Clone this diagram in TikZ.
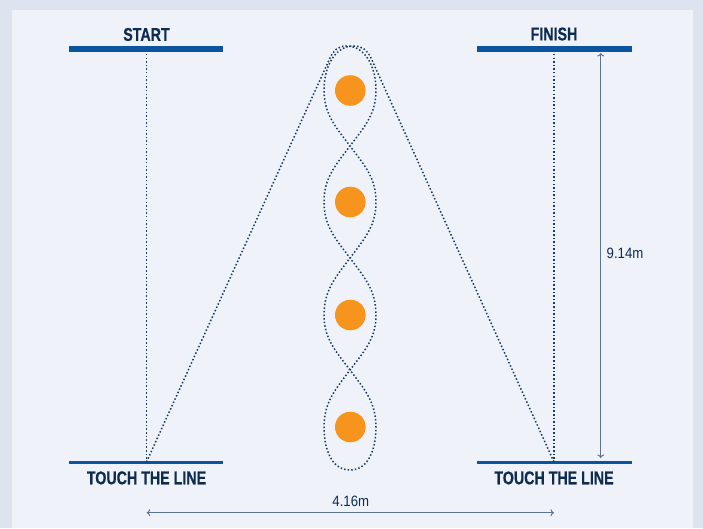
\documentclass[tikz,border=0pt]{standalone}
\usepackage{fontspec}
\setmainfont{Liberation Sans}
\newfontfamily\condb[FakeStretch=0.77,FakeBold=0.5]{Liberation Sans}
\newfontfamily\condr[FakeStretch=0.88]{Liberation Sans}
\usetikzlibrary{arrows.meta}
\definecolor{bgout}{HTML}{DDE3EF}
\definecolor{bgin}{HTML}{EFF3F9}
\definecolor{barblue}{HTML}{0B55A0}
\definecolor{navy}{HTML}{0E2C50}
\definecolor{dotc}{HTML}{1C3A60}
\definecolor{arrc}{HTML}{5C7493}
\definecolor{cone}{HTML}{F7941D}
\begin{document}
\begin{tikzpicture}[x=1pt,y=1pt,
  barline/.style={draw=barblue,line width=#1},
  lbl/.style={font=\condb\bfseries\fontsize{18.5}{20}\selectfont, text=navy, inner sep=0},
  num/.style={font=\condr\fontsize{15}{17}\selectfont, text=navy, inner sep=0},
  dots/.style={draw=dotc, line width=1.5pt, dash pattern=on 1.5pt off 2.1pt},
  dimline/.style={draw=arrc, line width=1pt, {To[length=3.5pt,width=7pt]}-{To[length=3.5pt,width=7pt]}},
  conedot/.style={fill=cone, circle, minimum size=30.6pt, inner sep=0}]
\fill[bgout] (0,0) rectangle (703,528);
\fill[bgin] (12,0) rectangle (692.7,518);
\useasboundingbox (0,0) rectangle (703,528);

% bars
\coordinate (sbA) at (69,479);   \coordinate (sbB) at (223,479);
\coordinate (tbA) at (69,65.3);  \coordinate (tbB) at (223,65.3);
\coordinate (fbA) at (477,479);  \coordinate (fbB) at (631.7,479);
\coordinate (ubA) at (477,65.3); \coordinate (ubB) at (631.7,65.3);
\draw[barline=6pt] (sbA) -- (sbB);
\draw[barline=6pt] (fbA) -- (fbB);
\draw[barline=3.5pt] (tbA) -- (tbB);
\draw[barline=3.5pt] (ubA) -- (ubB);

% labels
\node[lbl] (start) at (146.5,493.5) {START};
\node[lbl] (finish) at (554,494) {FINISH};
\node[lbl] (touchL) at (146.5,50.1) {TOUCH THE LINE};
\node[lbl] (touchR) at (554,50.1) {TOUCH THE LINE};

% dotted verticals
\coordinate (lTop) at (146.5,474);
\coordinate (lBot) at (146.5,66);
\coordinate (rTop) at (554,474);
\coordinate (rBot) at (554,66);
\draw[dots] (lTop) -- (lBot);
\draw[dots] (rTop) -- (rBot);

% cones
\node[conedot] (c1) at (350.3,437.5) {};
\node[conedot] (c2) at (350.3,326) {};
\node[conedot] (c3) at (350.3,213) {};
\node[conedot] (c4) at (350.3,101) {};

% weave path
\draw[dots] (lBot) -- (330,470)
  to[out=65.6,in=180] (346,482)
  to[out=0,in=90] (376,438)
  to[out=-90,in=53] (350,382)
  to[out=233,in=90] (324,326)
  to[out=-90,in=127] (350,270)
  to[out=-53,in=90] (376,213)
  to[out=-90,in=53] (350,158)
  to[out=233,in=90] (324,101)
  to[out=-90,in=180] (350,58)
  to[out=0,in=-90] (376,101)
  to[out=90,in=-53] (350,158)
  to[out=127,in=-90] (324,213)
  to[out=90,in=233] (350,270)
  to[out=53,in=-90] (376,326)
  to[out=90,in=-53] (350,382)
  to[out=127,in=-90] (324,438)
  to[out=90,in=180] (354,482)
  to[out=0,in=114.4] (371,470)
  -- (rBot);

% dimensions
\coordinate (vTop) at (600.7,475);
\coordinate (vBot) at (600.7,70);
\draw[dimline] (vTop) -- (vBot);
\node[num] (h) at (625,274.7) {9.14m};
\coordinate (hL) at (146.7,15.3);
\coordinate (hR) at (554,15.3);
\draw[dimline] (hL) -- (hR);
\node[num] (w) at (350.8,26.5) {4.16m};
\end{tikzpicture}
\end{document}
